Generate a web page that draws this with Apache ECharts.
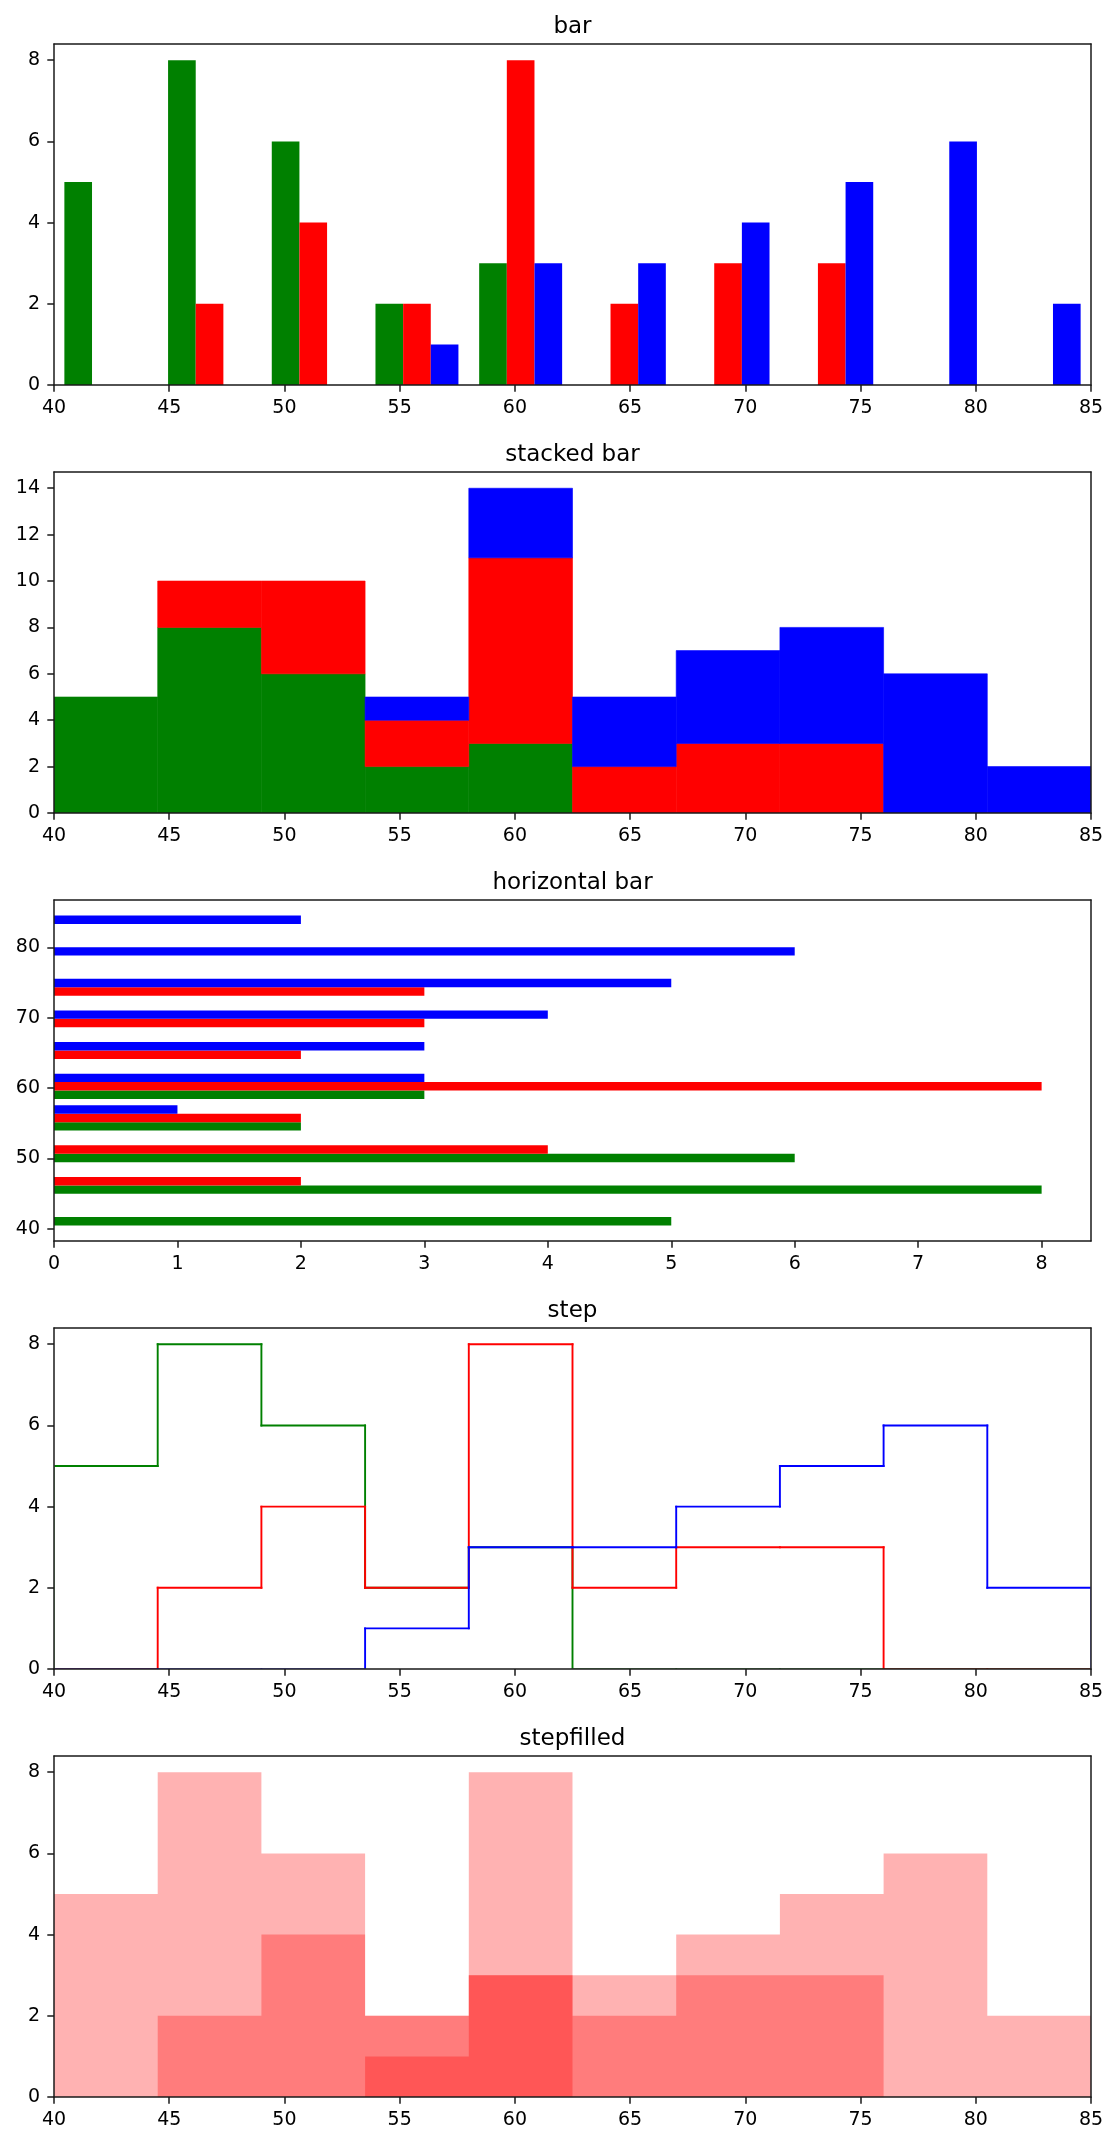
<!DOCTYPE html>
<html>
<head>
<meta charset="utf-8">
<script src="https://cdn.jsdelivr.net/npm/echarts@6/dist/echarts.min.js"></script>
<style>
html, body { margin: 0; padding: 0; background: #ffffff; }
#chart { width: 1118px; height: 2143px; }
</style>
</head>
<body>
<div id="chart"></div>
<script>
// ---- data ----
const binEdges = [40, 44.5, 49, 53.5, 58, 62.5, 67, 71.5, 76, 80.5, 85];
const greenCounts = [5, 8, 6, 2, 3, 0, 0, 0, 0, 0];
const redCounts   = [0, 2, 4, 2, 8, 2, 3, 3, 0, 0];
const blueCounts  = [0, 0, 0, 1, 3, 3, 4, 5, 6, 2];
const seriesColors = ['#008000', '#ff0000', '#0000ff'];
const panelTitles = ['bar', 'stacked bar', 'horizontal bar', 'step', 'stepfilled'];
const xTicks = [40, 45, 50, 55, 60, 65, 70, 75, 80, 85];
const countTicks = [0, 2, 4, 6, 8];
const stackTicks = [0, 2, 4, 6, 8, 10, 12, 14];
const hbarCountTicks = [0, 1, 2, 3, 4, 5, 6, 7, 8];
const hbarBinTicks = [40, 50, 60, 70, 80];

// ---- layout / style ----
const GRID_LEFT = 54, GRID_W = 1037, GRID_H = 341;
const gridTops = [44, 472, 900, 1328, 1756];
const SPINE = '#1a1a1a';
const FONT = 'DejaVu Sans';
const RWIDTH = 0.8;
const STEP_LW = 1.9;
const STEP_CLIP_INSET = 0.6;

const allCounts = [greenCounts, redCounts, blueCounts];
const nBins = binEdges.length - 1;

// grouped (side by side) bars
function groupedRects(horizontal) {
  const out = [];
  allCounts.forEach((counts, k) => {
    const data = [];
    for (let i = 0; i < nBins; i++) {
      if (!counts[i]) continue;
      const bw = binEdges[i + 1] - binEdges[i];
      const w = RWIDTH * bw / allCounts.length;
      const a = binEdges[i] + (1 - RWIDTH) / 2 * bw + k * w;
      const b = a + w;
      data.push(horizontal ? [0, counts[i], a, b] : [a, b, 0, counts[i]]);
    }
    out.push(data);
  });
  return out;
}
// stacked bars
function stackedRects() {
  const out = [];
  const base = new Array(nBins).fill(0);
  allCounts.forEach((counts) => {
    const data = [];
    for (let i = 0; i < nBins; i++) {
      if (counts[i]) data.push([binEdges[i], binEdges[i + 1], base[i], base[i] + counts[i]]);
      base[i] += counts[i];
    }
    out.push(data);
  });
  return out;
}
// step outline points
function stepPoints(counts) {
  const pts = [[binEdges[0], 0]];
  for (let i = 0; i < nBins; i++) {
    pts.push([binEdges[i], counts[i]]);
    pts.push([binEdges[i + 1], counts[i]]);
  }
  pts.push([binEdges[nBins], 0]);
  return pts;
}
// step outline as segments [x0, y0, x1, y1]
function stepSegments(counts) {
  const pts = stepPoints(counts);
  const segs = [];
  for (let i = 0; i + 1 < pts.length; i++) {
    const a = pts[i], b = pts[i + 1];
    if (a[0] === b[0] && a[1] === b[1]) continue;
    segs.push([a[0], a[1], b[0], b[1]]);
  }
  return segs;
}

function rectRender(color, seamless) {
  return function (params, api) {
    const p0 = api.coord([api.value(0), api.value(2)]);
    const p1 = api.coord([api.value(1), api.value(3)]);
    return {
      type: 'rect',
      shape: {
        x: Math.min(p0[0], p1[0]), y: Math.min(p0[1], p1[1]),
        width: Math.abs(p1[0] - p0[0]), height: Math.abs(p1[1] - p0[1])
      },
      style: seamless ? { fill: color, stroke: color, lineWidth: 0.6 } : { fill: color }
    };
  };
}
function segRender(color) {
  return function (params, api) {
    const p0 = api.coord([api.value(0), api.value(1)]);
    const p1 = api.coord([api.value(2), api.value(3)]);
    const cs = params.coordSys;
    return {
      type: 'line',
      shape: { x1: p0[0], y1: p0[1], x2: p1[0], y2: p1[1] },
      style: { stroke: color, lineWidth: STEP_LW, lineCap: 'square', fill: null },
      clipPath: {
        type: 'rect',
        shape: {
          x: cs.x + STEP_CLIP_INSET, y: cs.y + STEP_CLIP_INSET,
          width: cs.width - 2 * STEP_CLIP_INSET, height: cs.height - 2 * STEP_CLIP_INSET
        }
      }
    };
  };
}

const grids = gridTops.map(t => ({
  left: GRID_LEFT, top: t, width: GRID_W, height: GRID_H,
  show: false
}));

function axis(gridIndex, min, max, ticks, position) {
  return {
    type: 'value', gridIndex, min, max, position, zlevel: 1, z: 10,
    splitLine: { show: false },
    axisLine: { show: true, onZero: false, lineStyle: { color: SPINE, width: 1.5 } },
    axisTick: { show: true, length: 6.7, lineStyle: { color: SPINE, width: 1.5 }, customValues: ticks },
    axisLabel: { show: true, customValues: ticks, color: '#000', fontFamily: FONT, fontSize: 19, margin: 14 }
  };
}
// plain spine (top / right frame lines) drawn above the marks
function spine(gridIndex, min, max, position) {
  return {
    type: 'value', gridIndex, min, max, position, zlevel: 1, z: 10,
    splitLine: { show: false },
    axisLine: { show: true, onZero: false, lineStyle: { color: SPINE, width: 1.5 } },
    axisTick: { show: false },
    axisLabel: { show: false }
  };
}

const xRanges = [[40, 85], [40, 85], [0, 8.4], [40, 85], [40, 85]];
const yRanges = [[0, 8.4], [0, 14.7], [38.245, 86.755], [0, 8.4], [0, 8.4]];
const xTickSets = [xTicks, xTicks, hbarCountTicks, xTicks, xTicks];
const yTickSets = [countTicks, stackTicks, hbarBinTicks, countTicks, countTicks];

const xAxes = xRanges.map((r, i) => axis(i, r[0], r[1], xTickSets[i], 'bottom'))
  .concat(xRanges.map((r, i) => spine(i, r[0], r[1], 'top')));
const yAxes = yRanges.map((r, i) => axis(i, r[0], r[1], yTickSets[i], 'left'))
  .concat(yRanges.map((r, i) => spine(i, r[0], r[1], 'right')));

const series = [];
groupedRects(false).forEach((data, k) => series.push({
  type: 'custom', xAxisIndex: 0, yAxisIndex: 0, data, z: 1,
  encode: { x: [0, 1], y: [2, 3] }, renderItem: rectRender(seriesColors[k], false), clip: true
}));
stackedRects().forEach((data, k) => series.push({
  type: 'custom', xAxisIndex: 1, yAxisIndex: 1, data, z: 1,
  encode: { x: [0, 1], y: [2, 3] }, renderItem: rectRender(seriesColors[k], true), clip: true
}));
groupedRects(true).forEach((data, k) => series.push({
  type: 'custom', xAxisIndex: 2, yAxisIndex: 2, data, z: 1,
  encode: { x: [0, 1], y: [2, 3] }, renderItem: rectRender(seriesColors[k], false), clip: true
}));
allCounts.forEach((counts, k) => series.push({
  type: 'custom', xAxisIndex: 3, yAxisIndex: 3, data: stepSegments(counts), z: 1,
  encode: { x: [0, 2], y: [1, 3] }, renderItem: segRender(seriesColors[k]), clip: true
}));
allCounts.forEach((counts) => series.push({
  type: 'line', xAxisIndex: 4, yAxisIndex: 4, data: stepPoints(counts), z: 1,
  symbol: 'none', clip: true, animation: false,
  lineStyle: { width: 0, opacity: 0 },
  areaStyle: { color: '#ff0000', opacity: 0.3, origin: 'start' }
}));

const titles = panelTitles.map((t, i) => ({
  text: t, left: GRID_LEFT + GRID_W / 2, textAlign: 'center', top: gridTops[i] - 28, padding: 0,
  textStyle: { fontFamily: FONT, fontSize: 23, fontWeight: 'normal', color: '#000' }
}));

const chart = echarts.init(document.getElementById('chart'), null, { renderer: 'canvas' });
chart.setOption({
  backgroundColor: '#ffffff',
  animation: false,
  title: titles,
  grid: grids,
  xAxis: xAxes,
  yAxis: yAxes,
  series
});
</script>
</body>
</html>
